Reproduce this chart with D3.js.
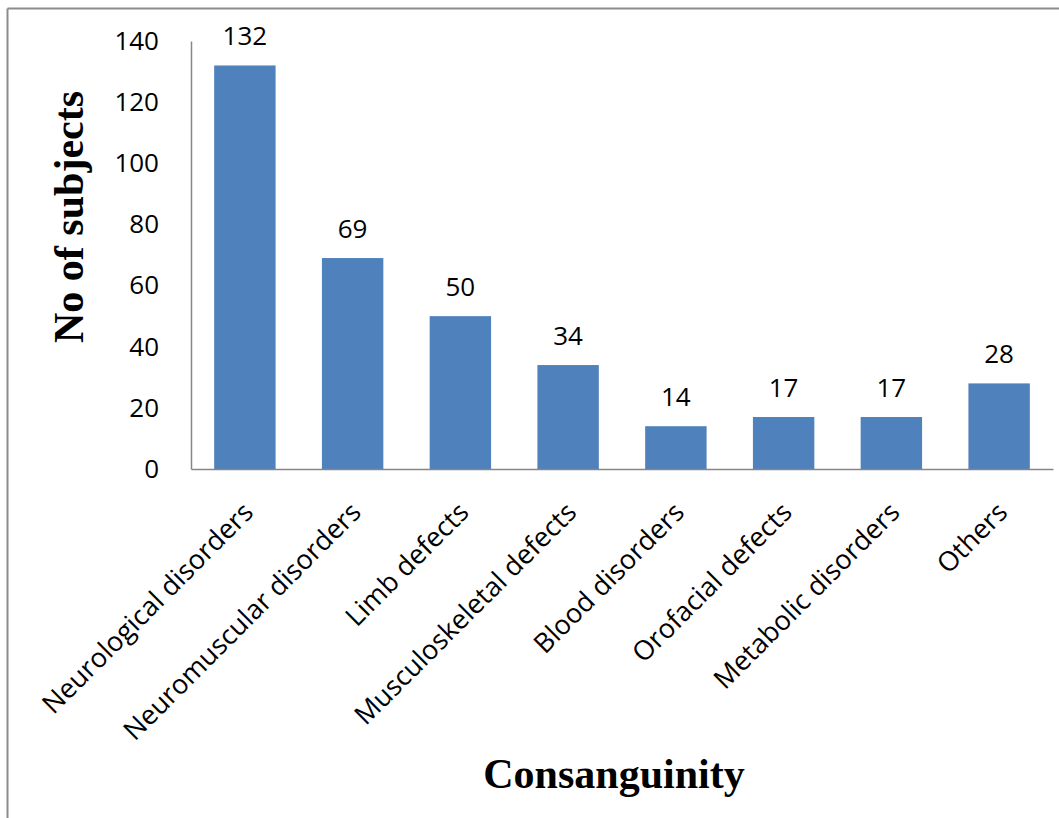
<!DOCTYPE html>
<html lang="en">
<head>
<meta charset="UTF-8">
<title>Consanguinity</title>
<script src="https://d3js.org/d3.v7.min.js"></script>
<style>
  body { margin: 0; background: #fff; }
  .tick text { font-family: "Open Sans", sans-serif; }
</style>
</head>
<body>
<svg id="chart" width="1059" height="818"></svg>
<script>
const categories = ["Neurological disorders", "Neuromuscular disorders", "Limb defects",
  "Musculoskeletal defects", "Blood disorders", "Orofacial defects", "Metabolic disorders", "Others"];
const subjects = [132, 69, 50, 34, 14, 17, 17, 28];
const yTicks = [0, 20, 40, 60, 80, 100, 120, 140];

const svg = d3.select("#chart");
const margin = {top: 41, right: 6, bottom: 349, left: 191};
const width = 1059, height = 818;

// outer frame (only top and left edges show)
svg.append("line").attr("x1", 7.5).attr("x2", width).attr("y1", 8.5).attr("y2", 8.5)
  .attr("stroke", "#8c8c8c").attr("stroke-width", 2);
svg.append("line").attr("x1", 7.5).attr("x2", 7.5).attr("y1", 8.5).attr("y2", height)
  .attr("stroke", "#8c8c8c").attr("stroke-width", 2);

const x = d3.scaleBand().domain(categories)
  .range([margin.left, width - margin.right]).paddingInner(0.43).paddingOuter(0.215);
const y = d3.scaleLinear().domain([0, 140]).range([height - margin.bottom, margin.top]);

const g = svg.append("g");

g.selectAll("rect").data(subjects).join("rect")
  .attr("x", (d, i) => x(categories[i]))
  .attr("width", x.bandwidth())
  .attr("y", d => y(d))
  .attr("height", d => y(0) - y(d))
  .attr("fill", "#4f81bd");

g.selectAll("text.val").data(subjects).join("text")
  .attr("class", "val")
  .attr("x", (d, i) => x(categories[i]) + x.bandwidth() / 2)
  .attr("y", d => y(d) - 20)
  .attr("text-anchor", "middle")
  .attr("font-family", "Open Sans, sans-serif")
  .attr("font-size", 26)
  .attr("fill", "#000")
  .text(d => d);

// y axis
const yAxis = svg.append("g").attr("transform", `translate(${margin.left},0)`)
  .call(d3.axisLeft(y).tickValues(yTicks).tickSize(0).tickPadding(32));
yAxis.select(".domain").attr("stroke", "#868686").attr("stroke-width", 1.5);
yAxis.selectAll(".tick text").attr("font-size", 26).attr("fill", "#000");

// x axis
const xAxis = svg.append("g").attr("transform", `translate(0,${y(0)})`)
  .call(d3.axisBottom(x).tickSize(0).tickPadding(0));
xAxis.select(".domain").attr("stroke", "#868686").attr("stroke-width", 1.5);
xAxis.selectAll(".tick text")
  .attr("font-size", 27).attr("fill", "#000")
  .attr("text-anchor", "end")
  .attr("dy", 0)
  .attr("transform", "translate(10,45) rotate(-45)");

// axis titles
svg.append("text")
  .attr("transform", "translate(83,217) rotate(-90)")
  .attr("text-anchor", "middle")
  .attr("font-family", "Liberation Serif, Times New Roman, serif")
  .attr("font-weight", "bold")
  .attr("font-size", 42)
  .text("No of subjects");

svg.append("text")
  .attr("x", 614).attr("y", 788)
  .attr("text-anchor", "middle")
  .attr("font-family", "Liberation Serif, Times New Roman, serif")
  .attr("font-weight", "bold")
  .attr("font-size", 42)
  .text("Consanguinity");
</script>
</body>
</html>
